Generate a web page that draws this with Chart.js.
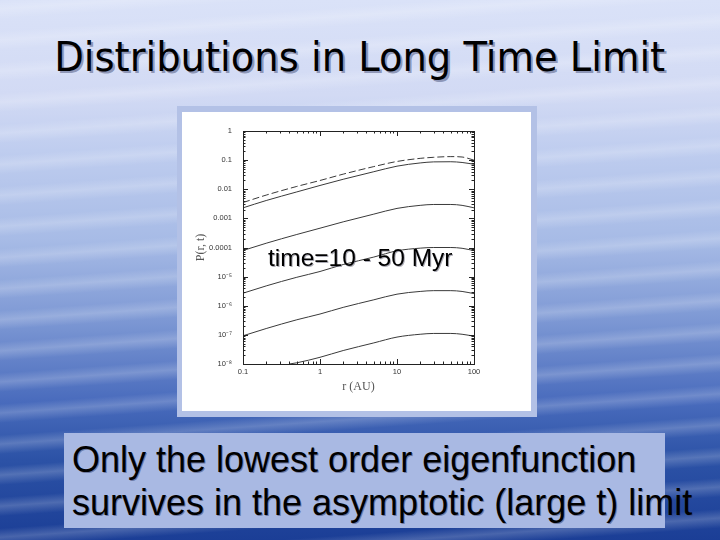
<!DOCTYPE html>
<html><head><meta charset="utf-8">
<script src="https://cdn.jsdelivr.net/npm/chart.js@4/dist/chart.umd.min.js"></script>
<style>
html,body{margin:0;padding:0;width:720px;height:540px;overflow:hidden}
#slide{position:relative;width:720px;height:540px;overflow:hidden;
background:
 repeating-linear-gradient(176deg, rgba(255,255,255,0) 0px, rgba(255,255,255,0.2) 9px, rgba(255,255,255,0) 19px, rgba(255,255,255,0) 31px),
 linear-gradient(to bottom, #dae2f8 0px, #d2daf4 95px, #bfcdef 150px, #a7bbe6 240px, #7d98d4 320px, #4a6cbd 400px, #2c52a6 460px, #1b3e96 540px);}
#title{position:absolute;left:0;top:32px;width:720px;text-align:center;white-space:nowrap;
 font-family:"DejaVu Sans Condensed","DejaVu Sans",sans-serif;font-size:40px;line-height:50px;color:#000;
 text-shadow:2px 2px 0 rgba(80,90,130,0.55)}
#title span{display:inline-block;transform-origin:center}
#frame{position:absolute;left:177px;top:106px;width:360px;height:311px;background:#b3c1e6}
#white{position:absolute;left:182px;top:112px;width:349px;height:299px;background:#fff}
#chartbox{position:absolute;left:183px;top:112px;width:348px;height:298px}
#overlay{position:absolute;left:268px;top:244px;white-space:nowrap;font-family:"Liberation Sans",Arial,sans-serif;font-size:24.5px;line-height:28px;color:#000;text-shadow:1px 1px 0 rgba(90,90,110,0.5)}
#note{position:absolute;left:64px;top:433px;width:601px;height:95px;background:#a9b9e3}
#notetext{position:absolute;left:72px;top:438px;white-space:nowrap;font-family:"Liberation Sans",Arial,sans-serif;font-size:36px;line-height:43px;color:#000;text-shadow:1px 1px 0 rgba(60,70,110,0.55)}
</style></head>
<body><div id="slide">
<div id="title"><span id="titlespan">Distributions in Long Time Limit</span></div>
<div id="frame"></div><div id="white"></div>
<div id="chartbox"><canvas id="c" width="348" height="298"></canvas></div>
<div id="overlay">time=10 - 50 Myr</div>
<div id="note"></div>
<div id="notetext">Only the lowest order eigenfunction<br>survives in the asymptotic (large t) limit</div>
</div>
<script>
// radius values (AU)
const radius = [0.1, 0.2, 0.5, 1, 2, 5, 10, 20, 30, 50, 70, 100];
const radiusLast = [0.4, 0.5, 1, 2, 5, 10, 20, 30, 50, 70, 100];
// P(r,t) curves, top to bottom
const curveA = [0.0035, 0.0063, 0.0125, 0.020, 0.033, 0.060, 0.090, 0.115, 0.125, 0.132, 0.128, 0.100];
const curveB = [0.0023, 0.0041, 0.0081, 0.0135, 0.022, 0.040, 0.062, 0.080, 0.087, 0.088, 0.083, 0.072];
const curveC = [7.9e-5, 1.4e-4, 2.8e-4, 4.6e-4, 7.6e-4, 1.4e-3, 2.2e-3, 2.8e-3, 3.0e-3, 3.0e-3, 2.8e-3, 2.3e-3];
const curveD = [2.7e-6, 4.8e-6, 9.5e-6, 1.5e-5, 2.6e-5, 4.7e-5, 7.7e-5, 9.5e-5, 1.0e-4, 1.0e-4, 9.4e-5, 7.8e-5];
const curveE = [9.3e-8, 1.65e-7, 3.3e-7, 5.2e-7, 8.8e-7, 1.6e-6, 2.5e-6, 3.1e-6, 3.3e-6, 3.3e-6, 3.1e-6, 2.6e-6];
const curveF = [1.0e-8, 1.1e-8, 1.7e-8, 2.9e-8, 5.3e-8, 8.4e-8, 1.05e-7, 1.12e-7, 1.12e-7, 1.05e-7, 9.0e-8];
// tick labels
const xTickValues = [0.1, 1, 10, 100];
const xTickLabels = ['0.1', '1', '10', '100'];
const yTickValues = [1e-8, 1e-7, 1e-6, 1e-5, 1e-4, 1e-3, 1e-2, 1e-1, 1];
const yTickLabels = ['10\u207B\u2078', '10\u207B\u2077', '10\u207B\u2076', '10\u207B\u2075', '0.0001', '0.001', '0.01', '0.1', '1'];

function pts(xs, ys){ return xs.map((x,i)=>({x:x, y:ys[i]})); }
function ds(xs, ys, dash){
  return {data: pts(xs, ys), showLine:true, borderColor:'#3a3a3a', borderWidth:1, pointRadius:0,
          borderDash: dash||[], tension:0.4, cubicInterpolationMode:'monotone', fill:false};
}

const frameTicks = {
  id:'frameTicks',
  afterDraw(chart){
    const {ctx, chartArea:a, scales:{x, y}} = chart;
    ctx.save();
    ctx.strokeStyle = '#222'; ctx.lineWidth = 1;
    ctx.strokeRect(Math.round(a.left)+0.5, Math.round(a.top)+0.5, Math.round(a.right-a.left), Math.round(a.bottom-a.top));
    ctx.beginPath();
    for (let e=-1; e<=1; e++) for (let m=1; m<=9; m++){
      const v = m*Math.pow(10,e); if (v>100.0001) continue;
      const p = Math.round(x.getPixelForValue(v))+0.5, L = m===1?5:2.5;
      ctx.moveTo(p, a.bottom); ctx.lineTo(p, a.bottom-L);
      ctx.moveTo(p, a.top); ctx.lineTo(p, a.top+L);
    }
    for (let e=-8; e<=0; e++) for (let m=1; m<=9; m++){
      const v = m*Math.pow(10,e); if (v>1.0001) continue;
      const p = Math.round(y.getPixelForValue(v))+0.5, L = m===1?5:2.5;
      ctx.moveTo(a.left, p); ctx.lineTo(a.left+L, p);
      ctx.moveTo(a.right, p); ctx.lineTo(a.right-L, p);
    }
    ctx.stroke();
    ctx.restore();
  }
};

new Chart(document.getElementById('c'), {
  type:'scatter',
  data:{datasets:[
    ds(radius, curveA, [7,3]),
    ds(radius, curveB),
    ds(radius, curveC),
    ds(radius, curveD),
    ds(radius, curveE),
    ds(radiusLast, curveF)
  ]},
  options:{
    responsive:false, animation:false, devicePixelRatio:1,
    layout:{padding:{left:0, right:57, top:19, bottom:0}},
    plugins:{legend:{display:false}, tooltip:{enabled:false}},
    scales:{
      x:{type:'logarithmic', min:0.1, max:100,
        afterBuildTicks(s){ s.ticks = xTickValues.map(v=>({value:v})); },
        afterFit(s){ s.height = 46; },
        grid:{display:false, drawTicks:false}, border:{display:false},
        ticks:{autoSkip:false, maxRotation:0, padding:3, color:'#333',
          font:{family:'"Liberation Sans", Arial, sans-serif', size:7.5},
          callback(v){ const i = xTickValues.findIndex(t=>Math.abs(t-v)/t<1e-6); return i>=0 ? xTickLabels[i] : ''; }},
        title:{display:true, text:'r (AU)', color:'#555',
          font:{family:'"Liberation Serif","DejaVu Serif",serif', size:12}, padding:{top:0,bottom:16}}
      },
      y:{type:'logarithmic', min:1e-8, max:1,
        afterBuildTicks(s){ s.ticks = yTickValues.map(v=>({value:v})); },
        afterFit(s){ s.width = 60; },
        grid:{display:false, drawTicks:false}, border:{display:false},
        ticks:{autoSkip:false, padding:11, color:'#333',
          font:{family:'"Liberation Sans", Arial, sans-serif', size:7.5},
          callback(v){ const i = yTickValues.findIndex(t=>Math.abs(t-v)/t<1e-6); return i>=0 ? yTickLabels[i] : ''; }},
        title:{display:true, text:'P(r, t)', color:'#555',
          font:{family:'"Liberation Serif","DejaVu Serif",serif', size:12}, padding:{top:11,bottom:0}}
      }
    }
  },
  plugins:[frameTicks]
});

// fit title width to the slide's title span
(function(){
  const s = document.getElementById('titlespan');
  const w = s.getBoundingClientRect().width;
  if (w>0) s.style.transform = 'scaleX(' + (611/w) + ')';
})();
</script>
</body></html>
